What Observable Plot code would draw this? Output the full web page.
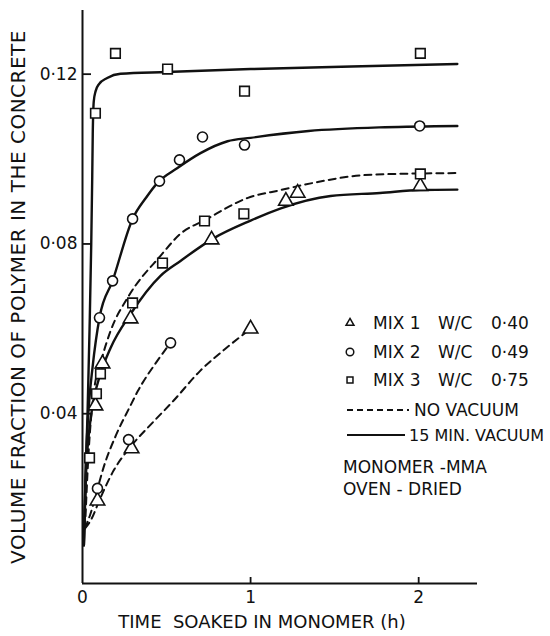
<!DOCTYPE html>
<html><head><meta charset="utf-8">
<script src="https://cdn.jsdelivr.net/npm/d3@7"></script>
<script src="https://cdn.jsdelivr.net/npm/@observablehq/plot@0.6"></script>
<style>
body{margin:0;background:#fff;}
#wrap{position:relative;width:550px;height:636px;font-family:"DejaVu Sans",sans-serif;}
#legend{position:absolute;left:0;top:0;}
.ylab text{letter-spacing:0.5px;}
</style></head><body><div id="wrap"></div>
<script>
// ---- axes ----
const xTicks = [0, 1, 2];
const yTicks = [0.04, 0.08, 0.12];
const xLabel = "TIME  SOAKED IN MONOMER (h)";
const yLabel = "VOLUME FRACTION OF POLYMER IN THE CONCRETE";

// ---- measured points ----
const mix1VacX = [0.077, 0.119, 0.286, 0.768, 1.21, 1.28, 2.01];
const mix1VacY = [0.0419, 0.0518, 0.0624, 0.081, 0.0901, 0.092, 0.0936];
const mix1NoVacX = [0.089, 0.292, 1.0];
const mix1NoVacY = [0.0195, 0.0318, 0.060];
const mix2VacX = [0.101, 0.179, 0.298, 0.458, 0.577, 0.714, 0.964, 2.006];
const mix2VacY = [0.0626, 0.0713, 0.0859, 0.0948, 0.0998, 0.1052, 0.1033, 0.1078];
const mix2NoVacX = [0.089, 0.274, 0.524];
const mix2NoVacY = [0.0224, 0.0339, 0.0567];
const mix3VacX = [0.077, 0.196, 0.506, 0.964, 2.01];
const mix3VacY = [0.1108, 0.1249, 0.1212, 0.116, 0.1249];
const mix3NoVacX = [0.042, 0.083, 0.107, 0.298, 0.476, 0.726, 0.96, 2.01];
const mix3NoVacY = [0.0296, 0.0447, 0.0494, 0.0661, 0.0755, 0.0854, 0.0871, 0.0965];

// ---- fitted curves ----
const curveMix3VacX = [0.008, 0.018, 0.03, 0.042, 0.052, 0.058, 0.061, 0.067, 0.078, 0.097, 0.147, 0.226, 0.5, 1.0, 1.6, 2.23];
const curveMix3VacY = [0.009, 0.025, 0.04, 0.06, 0.08, 0.096, 0.1059, 0.1136, 0.116, 0.1176, 0.1191, 0.1201, 0.1205, 0.1212, 0.1218, 0.1224];
const curveMix2VacX = [0.008, 0.02, 0.04, 0.06, 0.101, 0.179, 0.298, 0.38, 0.446, 0.565, 0.702, 0.863, 1.0, 1.345, 1.8, 2.23];
const curveMix2VacY = [0.009, 0.028, 0.043, 0.051, 0.0626, 0.0713, 0.0859, 0.091, 0.0944, 0.0979, 0.1014, 0.1042, 0.105, 0.1066, 0.1075, 0.1078];
const curveMix1VacX = [0.008, 0.02, 0.04, 0.065, 0.107, 0.167, 0.286, 0.464, 0.583, 0.774, 1.0, 1.18, 1.476, 1.77, 2.01, 2.23];
const curveMix1VacY = [0.009, 0.025, 0.036, 0.043, 0.0494, 0.0555, 0.0635, 0.0725, 0.076, 0.0812, 0.0855, 0.0884, 0.0913, 0.092, 0.0927, 0.0928];
const curveMix3NoVacX = [0.015, 0.035, 0.066, 0.107, 0.167, 0.268, 0.464, 0.583, 0.732, 0.98, 1.18, 1.375, 1.67, 2.0, 2.23];
const curveMix3NoVacY = [0.013, 0.03, 0.0447, 0.0518, 0.0595, 0.0673, 0.0772, 0.0824, 0.0857, 0.0908, 0.0927, 0.0944, 0.0962, 0.0966, 0.0967];
const curveMix2NoVacX = [0.015, 0.048, 0.089, 0.125, 0.2, 0.28, 0.33, 0.446, 0.524];
const curveMix2NoVacY = [0.013, 0.0165, 0.0223, 0.0273, 0.035, 0.0415, 0.0454, 0.0525, 0.0567];
const curveMix1NoVacX = [0.015, 0.048, 0.107, 0.185, 0.292, 0.417, 0.54, 0.7, 0.85, 1.0];
const curveMix1NoVacY = [0.013, 0.0148, 0.0202, 0.0266, 0.0325, 0.0379, 0.043, 0.0501, 0.0553, 0.060];

// ---- legend ----
const legendMix = ["MIX 1", "MIX 2", "MIX 3"];
const legendWC = ["0·40", "0·49", "0·75"];
const legendSymbols = ["triangle", "circle", "square"];
const legendLines = ["NO VACUUM", "15 MIN. VACUUM"];
const legendNotes = ["MONOMER -MMA", "OVEN - DRIED"];

const zip = (xs, ys, name) => xs.map((x, i) => ({x, y: ys[i], name}));
const triPts = [...zip(mix1VacX, mix1VacY), ...zip(mix1NoVacX, mix1NoVacY)];
const cirPts = [...zip(mix2VacX, mix2VacY), ...zip(mix2NoVacX, mix2NoVacY)];
const sqPts = [...zip(mix3VacX, mix3VacY), ...zip(mix3NoVacX, mix3NoVacY)];
const solid = [
  ...zip(curveMix3VacX, curveMix3VacY, "m3v"),
  ...zip(curveMix2VacX, curveMix2VacY, "m2v"),
  ...zip(curveMix1VacX, curveMix1VacY, "m1v")];
const dashed = [
  ...zip(curveMix3NoVacX, curveMix3NoVacY, "m3n"),
  ...zip(curveMix2NoVacX, curveMix2NoVacY, "m2n"),
  ...zip(curveMix1NoVacX, curveMix1NoVacY, "m1n")];

const fmt = d => d3.format(".2f")(d).replace(".", "·");
const ink = "#111";
const dotOpts = {x: "x", y: "y", fill: "white", stroke: ink, strokeWidth: 1.6};

const chart = Plot.plot({
  width: 550, height: 636,
  marginLeft: 82, marginRight: 73, marginTop: 10, marginBottom: 53,
  x: {domain: [0, 2.35]},
  y: {domain: [0, 0.135]},
  style: {fontFamily: "DejaVu Sans, sans-serif", fontSize: "17px", color: ink, background: "white"},
  marks: [
    Plot.axisX({ticks: xTicks.filter(d => d > 0), tickSize: -6, strokeWidth: 1.8, tickFormat: () => "", label: null}),
    Plot.axisX({ticks: xTicks, tickSize: 0, tickPadding: 7, tickFormat: d => String(d), label: null}),
    Plot.axisY({ticks: yTicks, tickSize: -9, strokeWidth: 1.8, tickFormat: () => "", label: null}),
    Plot.axisY({ticks: yTicks, tickSize: 0, tickPadding: 5, tickFormat: fmt, label: null}),
    Plot.ruleX([0], {stroke: ink, strokeWidth: 2}),
    Plot.ruleY([0], {stroke: ink, strokeWidth: 2}),
    Plot.line(solid, {x: "x", y: "y", z: "name", stroke: ink, strokeWidth: 2.4, curve: "monotone-x"}),
    Plot.line(dashed, {x: "x", y: "y", z: "name", stroke: ink, strokeWidth: 2, strokeDasharray: "7,5", curve: "monotone-x"}),
    Plot.dot(triPts, {...dotOpts, symbol: "triangle", r: 5.4}),
    Plot.dot(cirPts, {...dotOpts, symbol: "circle", r: 5}),
    Plot.dot(sqPts, {...dotOpts, symbol: "square", r: 5.4}),
    Plot.text([yLabel], {text: d => d, frameAnchor: "left", textAnchor: "middle", rotate: -90, dx: -64, fontSize: 20, className: "ylab"}),
    Plot.text([xLabel], {text: d => d, frameAnchor: "bottom", dy: 44, dx: -18, fontSize: 18})
  ]
});
document.getElementById("wrap").appendChild(chart);

// legend overlay
const lg = d3.select("#wrap").append("svg").attr("id", "legend")
  .attr("width", 550).attr("height", 636)
  .style("font-family", "DejaVu Sans, sans-serif").style("font-size", "17px");
const rowY = [323, 352, 380];
const sym = {triangle: d3.symbolTriangle2, circle: d3.symbolCircle, square: d3.symbolSquare2};
legendMix.forEach((m, i) => {
  lg.append("path").attr("d", d3.symbol(sym[legendSymbols[i]], 45)())
    .attr("transform", `translate(350,${rowY[i]})`).attr("fill", "white").attr("stroke", ink).attr("stroke-width", 1.5);
  lg.append("text").attr("x", 373).attr("y", rowY[i]).attr("dy", "0.36em").attr("fill", ink).text(m);
  lg.append("text").attr("x", 438).attr("y", rowY[i]).attr("dy", "0.36em").attr("fill", ink).text("W/C");
  lg.append("text").attr("x", 491).attr("y", rowY[i]).attr("dy", "0.36em").attr("fill", ink).text(legendWC[i]);
});
lg.append("line").attr("x1", 347).attr("x2", 409).attr("y1", 410).attr("y2", 410)
  .attr("stroke", ink).attr("stroke-width", 1.8).attr("stroke-dasharray", "6,4");
lg.append("text").attr("x", 414).attr("y", 410).attr("dy", "0.36em").attr("fill", ink).text(legendLines[0]);
lg.append("line").attr("x1", 347).attr("x2", 405).attr("y1", 435).attr("y2", 435)
  .attr("stroke", ink).attr("stroke-width", 2.2);
lg.append("text").attr("x", 409).attr("y", 435).attr("dy", "0.36em").attr("fill", ink).style("font-size", "16px").text(legendLines[1]);
legendNotes.forEach((t, i) => {
  lg.append("text").attr("x", 343).attr("y", [467, 489][i]).attr("dy", "0.36em").attr("fill", ink).text(t);
});
</script>
</body></html>
